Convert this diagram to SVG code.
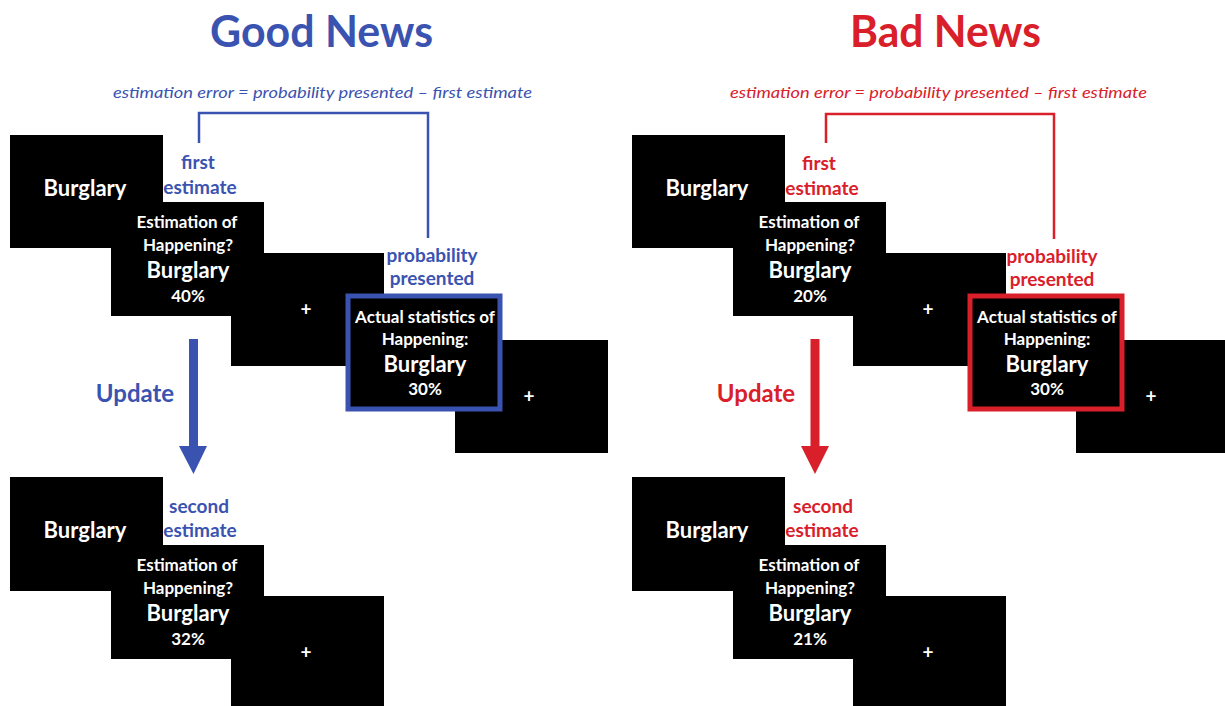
<svg xmlns="http://www.w3.org/2000/svg" width="1225" height="706" viewBox="0 0 1225 706">
<style>
text{font-family:Lato,"Open Sans","Liberation Sans",sans-serif;font-weight:bold;text-anchor:middle}
.scr{fill:#000}
.w{fill:#fff}
.s15{font-size:17px}
.s20{font-size:22px}
.pl{font-size:19px}
.blue{fill:#3A53B1}
.red{fill:#D9202A}
.title{font-size:44px}
.formula{font-size:15.5px;font-style:italic;font-weight:normal}
.upd{font-size:24px}
.lb{stroke:#3A53B1;stroke-width:2.5;fill:none}
.lr{stroke:#D9202A;stroke-width:2.5;fill:none}
.fb{stroke:#3A53B1;stroke-width:5}
.fr{stroke:#D9202A;stroke-width:5}
</style>
<rect width="1225" height="706" fill="#fff"/>

<!-- ===== Good News panel ===== -->
<g id="title-good"><text class="title blue" x="321.5" y="47" textLength="223" lengthAdjust="spacingAndGlyphs">Good News</text></g>
<g id="formula-good"><text class="formula blue" x="322.5" y="98" textLength="419" lengthAdjust="spacingAndGlyphs">estimation error = probability presented – first estimate</text></g>

<g id="g-screen1">
<rect class="scr" x="10" y="135" width="153" height="113"/>
<text class="w s20" x="85" y="196">Burglary</text>
</g>
<g id="g-screen2">
<rect class="scr" x="111" y="202" width="153" height="114"/>
<text class="w s15" x="187" y="228">Estimation of</text>
<text class="w s15" x="188" y="251">Happening?</text>
<text class="w s20" x="188" y="278">Burglary</text>
<text class="w s15" x="188" y="302">40%</text>
</g>
<g id="g-screen3">
<rect class="scr" x="231" y="253" width="153" height="113"/>
<text class="w pl" x="306" y="316">+</text>
</g>
<g id="g-screen5">
<rect class="scr" x="455" y="340" width="153" height="113"/>
<text class="w pl" x="529" y="403">+</text>
</g>
<g id="g-screen4">
<rect class="scr fb" x="348" y="296" width="152" height="113"/>
<text class="w s15" x="425" y="323">Actual statistics of</text>
<text class="w s15" x="425" y="345">Happening:</text>
<text class="w s20" x="425" y="372">Burglary</text>
<text class="w s15" x="425" y="395">30%</text>
</g>
<g id="g-label-first">
<text class="pl blue" x="198" y="169">first</text>
<text class="pl blue" x="200" y="194">estimate</text>
</g>
<g id="g-label-prob">
<text class="pl blue" x="432" y="262">probability</text>
<text class="pl blue" x="432" y="285">presented</text>
</g>
<g id="g-update">
<text class="upd blue" x="135" y="402">Update</text>
</g>

<g id="g-screen1b">
<rect class="scr" x="10" y="477" width="153" height="114"/>
<text class="w s20" x="85" y="538">Burglary</text>
</g>
<g id="g-screen2b">
<rect class="scr" x="111" y="545" width="153" height="114"/>
<text class="w s15" x="187" y="571">Estimation of</text>
<text class="w s15" x="188" y="594">Happening?</text>
<text class="w s20" x="188" y="621">Burglary</text>
<text class="w s15" x="188" y="645">32%</text>
</g>
<g id="g-screen3b">
<rect class="scr" x="231" y="596" width="153" height="113"/>
<text class="w pl" x="306" y="659">+</text>
</g>
<g id="g-label-second">
<text class="pl blue" x="199" y="513">second</text>
<text class="pl blue" x="200" y="537">estimate</text>
</g>

<!-- ===== Bad News panel ===== -->
<g id="title-bad"><text class="title red" x="945.5" y="47" textLength="191" lengthAdjust="spacingAndGlyphs">Bad News</text></g>
<g id="formula-bad"><text class="formula red" x="938.5" y="98" textLength="417" lengthAdjust="spacingAndGlyphs">estimation error = probability presented – first estimate</text></g>

<g id="b-screen1">
<rect class="scr" x="632" y="135" width="153" height="113"/>
<text class="w s20" x="707" y="196">Burglary</text>
</g>
<g id="b-screen2">
<rect class="scr" x="733" y="202" width="153" height="114"/>
<text class="w s15" x="809" y="228">Estimation of</text>
<text class="w s15" x="810" y="251">Happening?</text>
<text class="w s20" x="810" y="278">Burglary</text>
<text class="w s15" x="810" y="302">20%</text>
</g>
<g id="b-screen3">
<rect class="scr" x="853" y="253" width="153" height="113"/>
<text class="w pl" x="928" y="316">+</text>
</g>
<g id="b-screen5">
<rect class="scr" x="1076" y="340" width="153" height="113"/>
<text class="w pl" x="1151" y="403">+</text>
</g>
<g id="b-screen4">
<rect class="scr fr" x="970" y="296" width="152" height="113"/>
<text class="w s15" x="1047" y="323">Actual statistics of</text>
<text class="w s15" x="1047" y="345">Happening:</text>
<text class="w s20" x="1047" y="372">Burglary</text>
<text class="w s15" x="1047" y="395">30%</text>
</g>
<g id="b-label-first">
<text class="pl red" x="819" y="170">first</text>
<text class="pl red" x="822" y="195">estimate</text>
</g>
<g id="b-label-prob">
<text class="pl red" x="1052" y="263">probability</text>
<text class="pl red" x="1052" y="286">presented</text>
</g>
<g id="b-update">
<text class="upd red" x="756" y="402">Update</text>
</g>

<g id="b-screen1b">
<rect class="scr" x="632" y="477" width="153" height="114"/>
<text class="w s20" x="707" y="538">Burglary</text>
</g>
<g id="b-screen2b">
<rect class="scr" x="733" y="545" width="153" height="114"/>
<text class="w s15" x="809" y="571">Estimation of</text>
<text class="w s15" x="810" y="594">Happening?</text>
<text class="w s20" x="810" y="621">Burglary</text>
<text class="w s15" x="810" y="645">21%</text>
</g>
<g id="b-screen3b">
<rect class="scr" x="853" y="596" width="153" height="113"/>
<text class="w pl" x="928" y="659">+</text>
</g>
<g id="b-label-second">
<text class="pl red" x="823" y="513">second</text>
<text class="pl red" x="822" y="537">estimate</text>
</g>

<!-- ===== connectors ===== -->
<g id="connectors">
<path class="lb" d="M199,143 V113 H428 V238"/>
<path class="lr" d="M826,143 V114 H1054 V239"/>
<path d="M189,339 H198 V446 H207 L193.5,474 L179,446 H189 Z" fill="#3A53B1"/>
<path d="M810.5,339 H819.5 V446 H829 L815,474 L801,446 H810.5 Z" fill="#D9202A"/>
</g>
</svg>
